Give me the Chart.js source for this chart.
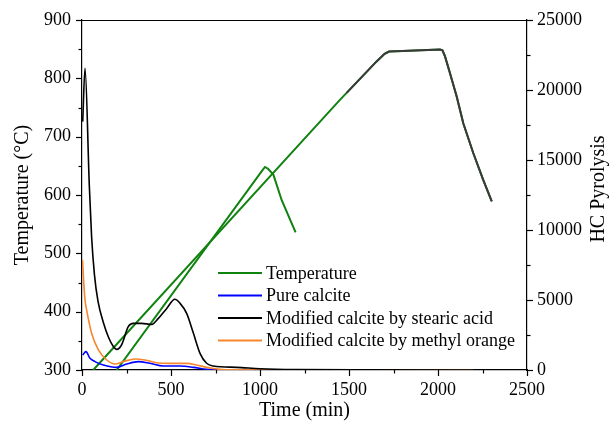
<!DOCTYPE html>
<html>
<head>
<meta charset="utf-8">
<script src="https://cdn.jsdelivr.net/npm/chart.js@4"></script>
<style>
  html, body { margin: 0; padding: 0; background: #fff; }
</style>
</head>
<body>
<canvas id="chart" width="610" height="428"></canvas>
<script>
'use strict';

Chart.defaults.font.family = "'Liberation Serif', 'Times New Roman', serif";
Chart.defaults.color = '#000';

// ─── Data ────────────────────────────────────────────────────────────────────

// Temperature runs, left axis (°C) vs time (min)
const tempShortTime = [195, 1010, 1028, 1045, 1075, 1122, 1200];
const tempShort     = [300, 641, 648, 645, 635, 591, 536];

const tempLongTime = [63, 1449, 1655, 1700, 1725, 1800, 2011, 2025, 2039, 2067, 2105, 2142, 2198, 2254, 2302];
const tempLong     = [300, 763, 829, 842, 846, 847, 849.5, 848, 838, 809, 769, 723, 672, 626, 589];

// dark trace lying on top of the long run
const tempDarkTime = [1487, 1655, 1700, 1725, 1800, 2011, 2025, 2039, 2067, 2105, 2142, 2198, 2254, 2302];
const tempDark     = [775, 829, 842, 846, 847, 849.5, 848, 838, 809, 769, 723, 672, 626, 589];

// HC pyrolysis, right axis
const pureTime = [4, 22, 45, 73, 120, 195, 251, 316, 382, 457, 551, 626, 700, 775, 1000];
const pure     = [1070, 1310, 833, 600, 357, 190, 430, 600, 476, 285, 285, 190, 50, 0, 0];

const stearicTime = [4, 17, 41, 54, 70, 90, 120, 150, 175, 195, 222, 260, 288, 335, 391, 429, 476, 522, 551, 588, 626, 663, 700, 738, 869, 1000, 1200, 1600, 2300];
const stearic     = [17740, 21550, 13200, 9500, 6800, 4900, 3400, 2300, 1700, 1476, 1786, 3095, 3333, 3333, 3260, 3690, 4400, 5050, 4760, 4050, 2620, 1190, 480, 285, 190, 90, 30, 10, 0];

const methylTime = [3, 10, 17, 26, 54, 92, 139, 185, 232, 298, 354, 419, 494, 588, 644, 700, 775, 850, 1200, 2200];
const methyl     = [7860, 6200, 5000, 4290, 2620, 1430, 714, 430, 600, 790, 714, 520, 476, 476, 357, 190, 50, 10, 0, 0];

const legendLabels = ['Temperature', 'Pure calcite', 'Modified calcite by stearic acid', 'Modified calcite by methyl orange'];
const xTitle = 'Time (min)';
const yTitle = 'Temperature (°C)';
const yRTitle = 'HC Pyrolysis';

// ─── Colours ─────────────────────────────────────────────────────────────────

const GREEN  = '#10820f';
const BLUE   = '#0000ff';
const BLACK  = '#000000';
const ORANGE = '#f7862d';
const DARK   = '#3a3a3a';

const pts = (xs, ys) => xs.map((x, i) => ({ x, y: ys[i] }));

function tempSet(data, color, order) {
  return { data, borderColor: color, borderWidth: 2, tension: 0, pointRadius: 0, yAxisID: 'y', order };
}
function hcSet(data, color, order) {
  return { data, borderColor: color, borderWidth: 1.6, cubicInterpolationMode: 'monotone', pointRadius: 0, yAxisID: 'yR', order };
}

// ─── Plugin: outward tick marks, top frame, right title, inner legend ───────

const MAJOR = { x: 500, y: 100, yR: 5000 };

const frame = {
  id: 'frame',
  afterDraw(chart) {
    const { ctx, chartArea } = chart;
    ctx.save();
    ctx.strokeStyle = '#000';
    ctx.lineWidth = 1.2;

    for (const id of ['x', 'y', 'yR']) {
      const s = chart.scales[id];
      s.ticks.forEach(t => {
        const len = t.value % MAJOR[id] === 0 ? 6 : 3.5;
        const p = Math.round(s.getPixelForValue(t.value)) + 0.5;
        ctx.beginPath();
        if (id === 'x') { ctx.moveTo(p, chartArea.bottom); ctx.lineTo(p, chartArea.bottom + len); }
        else if (id === 'y') { ctx.moveTo(chartArea.left, p); ctx.lineTo(chartArea.left - len, p); }
        else { ctx.moveTo(chartArea.right, p); ctx.lineTo(chartArea.right + len, p); }
        ctx.stroke();
      });
    }

    // top edge of the frame
    ctx.beginPath();
    ctx.moveTo(chartArea.left, chartArea.top + 0.5);
    ctx.lineTo(chartArea.right, chartArea.top + 0.5);
    ctx.stroke();

    // right title reads bottom-to-top like the left one
    const r = chart.scales.yR;
    ctx.translate(r.right - 11, (chartArea.top + chartArea.bottom) / 2 - 6);
    ctx.rotate(-Math.PI / 2);
    ctx.font = "20px 'Liberation Serif'";
    ctx.fillStyle = '#000';
    ctx.textAlign = 'center';
    ctx.textBaseline = 'middle';
    ctx.fillText(yRTitle, 0, 0);
    ctx.restore();

    // legend inside the plot
    const colors = [GREEN, BLUE, BLACK, ORANGE];
    const x0 = chartArea.left + 136;
    const y0 = chartArea.top + 253;
    ctx.save();
    ctx.font = "18px 'Liberation Serif'";
    ctx.textBaseline = 'middle';
    ctx.fillStyle = '#000';
    legendLabels.forEach((label, i) => {
      const y = y0 + i * 22.5;
      ctx.strokeStyle = colors[i];
      ctx.lineWidth = 1.8;
      ctx.beginPath();
      ctx.moveTo(x0, y);
      ctx.lineTo(x0 + 44, y);
      ctx.stroke();
      ctx.fillText(label, x0 + 48, y + 1);
    });
    ctx.restore();
  },
};

// ─── Chart ───────────────────────────────────────────────────────────────────

const tickFont = { size: 18 };

new Chart(document.getElementById('chart').getContext('2d'), {
  type: 'line',
  data: {
    datasets: [
      hcSet(pts(stearicTime, stearic), BLACK, 0),
      hcSet(pts(methylTime, methyl), ORANGE, 1),
      hcSet(pts(pureTime, pure), BLUE, 2),
      tempSet(pts(tempDarkTime, tempDark), DARK, 3),
      tempSet(pts(tempShortTime, tempShort), GREEN, 4),
      tempSet(pts(tempLongTime, tempLong), GREEN, 5),
    ],
  },
  options: {
    responsive: false,
    animation: false,
    layout: { padding: { top: 20, left: 0, right: 0, bottom: 0 } },
    plugins: { legend: { display: false }, tooltip: { enabled: false } },
    scales: {
      x: {
        type: 'linear',
        min: 0,
        max: 2500,
        border: { color: '#000', width: 1.2 },
        grid: { drawOnChartArea: false, drawTicks: true, tickLength: 6, tickColor: 'transparent' },
        ticks: {
          stepSize: 250, autoSkip: false, maxRotation: 0, padding: 3, font: tickFont,
          callback: v => v % 500 === 0 ? v : '',
        },
        title: { display: true, text: xTitle, font: { size: 20 }, padding: { top: 4, bottom: 5 } },
        afterFit: s => { s.height = 58; },
      },
      y: {
        position: 'left',
        min: 300,
        max: 900,
        border: { color: '#000', width: 1.2 },
        grid: { drawOnChartArea: false, drawTicks: true, tickLength: 6, tickColor: 'transparent' },
        ticks: {
          stepSize: 50, autoSkip: false, padding: 5, font: tickFont,
          callback: v => v % 100 === 0 ? v : '',
        },
        title: { display: true, text: yTitle, font: { size: 20 }, padding: { top: 11, bottom: 4 } },
        afterFit: s => { s.width = 82; },
      },
      yR: {
        position: 'right',
        min: 0,
        max: 25000,
        border: { color: '#000', width: 1.2 },
        grid: { drawOnChartArea: false, drawTicks: true, tickLength: 6, tickColor: 'transparent' },
        ticks: {
          stepSize: 2500, autoSkip: false, padding: 4, font: tickFont,
          callback: v => v % 5000 === 0 ? v : '',
        },
        afterFit: s => { s.width = 83; },
      },
    },
  },
  plugins: [frame],
});
</script>
</body>
</html>
